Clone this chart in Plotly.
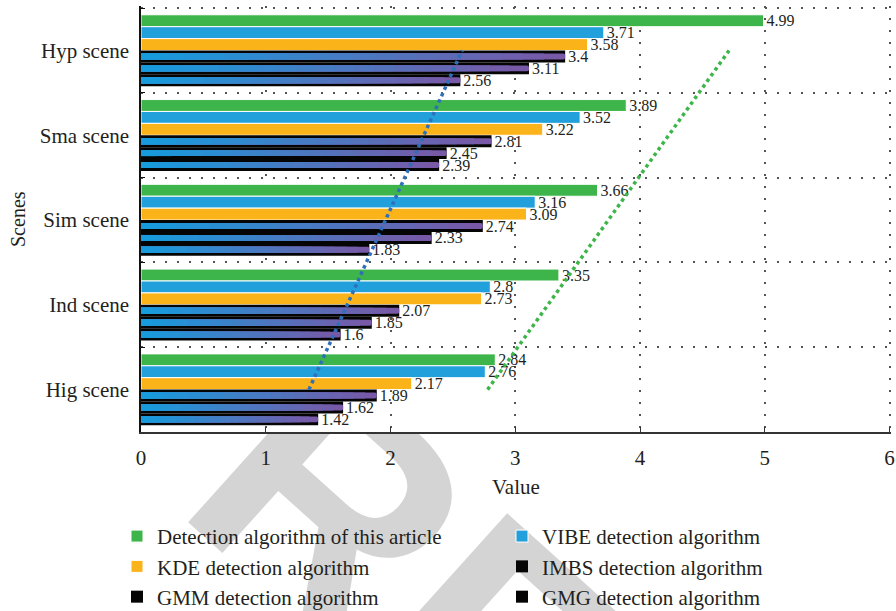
import numpy as np
import plotly.graph_objects as go

# Scenes listed top to bottom
SCENES = ["Hyp scene", "Sma scene", "Sim scene", "Ind scene", "Hig scene"]

DETECTION = [4.99, 3.89, 3.66, 3.35, 2.84]
VIBE = [3.71, 3.52, 3.16, 2.80, 2.76]
KDE = [3.58, 3.22, 3.09, 2.73, 2.17]
IMBS = [3.40, 2.81, 2.74, 2.07, 1.89]
GMM = [3.11, 2.45, 2.33, 1.85, 1.62]
GMG = [2.56, 2.39, 1.83, 1.60, 1.42]

X_TICKS = [0, 1, 2, 3, 4, 5, 6]

SERIF = "Liberation Serif"
INK = "#231f20"

SOLID_SERIES = [
    ("Detection algorithm of this article", DETECTION, "#3db54a", "det"),
    ("VIBE detection algorithm", VIBE, "#21a0db", "vibe"),
    ("KDE detection algorithm", KDE, "#fbb31a", "kde"),
]
GRADIENT_SERIES = [
    ("IMBS detection algorithm", IMBS, "imbs"),
    ("GMM detection algorithm", GMM, "gmm"),
    ("GMG detection algorithm", GMG, "gmg"),
]

GRAD_START = np.array([20, 157, 222])
GRAD_END = np.array([123, 87, 166])
N_STEPS = 20


def fmt(v):
    return f"{v:g}"


fig = go.Figure()

for name, vals, color, grp in SOLID_SERIES:
    fig.add_trace(go.Bar(
        y=SCENES, x=vals, orientation="h", name=name,
        offsetgroup=grp, alignmentgroup="all",
        marker=dict(color=color, line=dict(color="white", width=1)),
        text=[fmt(v) for v in vals], textposition="outside",
        textfont=dict(family=SERIF, size=16, color=INK),
        constraintext="none", cliponaxis=False, hoverinfo="skip",
    ))

for name, vals, grp in GRADIENT_SERIES:
    # dark casing bar carrying the value label
    fig.add_trace(go.Bar(
        y=SCENES, x=vals, orientation="h", name=name,
        offsetgroup=grp, alignmentgroup="all",
        marker=dict(color="#050505", line=dict(width=0)),
        text=[fmt(v) for v in vals], textposition="outside",
        textfont=dict(family=SERIF, size=16, color=INK),
        constraintext="none", cliponaxis=False, hoverinfo="skip",
    ))
    # blue-to-purple rounded stripe, built from nested bars (longest first)
    for k in range(N_STEPS):
        frac = (N_STEPS - k) / N_STEPS
        t = (N_STEPS - k - 0.5) / N_STEPS
        rgb = (GRAD_START + (GRAD_END - GRAD_START) * t).round().astype(int)
        fig.add_trace(go.Bar(
            y=SCENES, x=[v * frac for v in vals], orientation="h",
            offsetgroup=grp, alignmentgroup="all", width=0.07,
            marker=dict(color=f"rgb({rgb[0]},{rgb[1]},{rgb[2]})",
                        line=dict(width=0), cornerradius=3),
            showlegend=False, hoverinfo="skip",
        ))

# linear trends across the scenes (Hig -> Hyp)
order_up = SCENES[::-1]
idx = np.arange(len(order_up))
for vals, color in [(GMG, "#2e6fba"), (DETECTION, "#3db54a")]:
    up_vals = np.array(vals[::-1])
    slope, intercept = np.polyfit(idx, up_vals, 1)
    fig.add_trace(go.Scatter(
        y=order_up, x=slope * idx + intercept, mode="lines",
        line=dict(color=color, width=3.5, dash="dot"),
        showlegend=False, hoverinfo="skip",
    ))

# background stamp, kept under an opaque plotting area
STAMP_X, STAMP_Y, STAMP_SIZE, STAMP_ANGLE = 1.145, -1.482, 320, 42
fig.add_shape(
    type="rect", xref="paper", yref="paper",
    x0=STAMP_X - 0.001, x1=STAMP_X + 0.001, y0=STAMP_Y - 0.001, y1=STAMP_Y + 0.001,
    line=dict(width=0), fillcolor="rgba(0,0,0,0)", layer="below",
    label=dict(text="RETRACTED", textangle=STAMP_ANGLE, textposition="middle center",
               font=dict(family="Liberation Sans", size=STAMP_SIZE, color="#d4d4d4",
                         weight="bold")),
)
fig.add_shape(
    type="rect", xref="paper", yref="paper", x0=0, x1=1, y0=0, y1=1,
    line=dict(width=0), fillcolor="white", layer="below",
)

fig.add_annotation(
    text="Value", xref="paper", yref="paper", x=0.5, y=-0.129,
    xanchor="center", yanchor="middle", showarrow=False,
    font=dict(family=SERIF, size=21, color=INK),
)
fig.add_annotation(
    text="Scenes", xref="paper", yref="paper", x=-0.164, y=0.5,
    xanchor="center", yanchor="middle", showarrow=False, textangle=-90,
    font=dict(family=SERIF, size=20, color=INK),
)

fig.update_layout(
    width=896, height=611,
    margin=dict(l=141, r=5, t=6, b=179, autoexpand=False),
    paper_bgcolor="white", plot_bgcolor="white",
    barmode="group", bargap=0.157, bargroupgap=0,
    font=dict(family=SERIF, color=INK, size=21),
    legend=dict(
        orientation="h", x=-0.032, xanchor="left", y=-0.197, yanchor="top",
        entrywidth=340, font=dict(family=SERIF, size=21, color=INK),
        bgcolor="rgba(0,0,0,0)", traceorder="normal",
    ),
    xaxis=dict(
        range=[0, 6.012], tickvals=X_TICKS, ticktext=[str(t) for t in X_TICKS],
        showline=True, linecolor="#333333", linewidth=2,
        ticks="inside", ticklen=5, tickcolor="#333333", tickwidth=1,
        showgrid=True, gridcolor="#555555", gridwidth=1.5, griddash="2px,10px",
        zeroline=False, ticklabelstandoff=6,
        tickfont=dict(family=SERIF, size=21, color=INK),
    ),
    yaxis=dict(
        type="category", categoryorder="array", categoryarray=SCENES,
        range=[4.5, -0.525], tickson="boundaries",
        showline=True, linecolor="#111111", linewidth=1.5,
        ticks="inside", ticklen=4, tickcolor="#111111",
        showgrid=True, gridcolor="#555555", gridwidth=1.5, griddash="2px,10px",
        ticklabelstandoff=6,
        tickfont=dict(family=SERIF, size=21, color=INK),
    ),
)

fig.write_html("out.html")
